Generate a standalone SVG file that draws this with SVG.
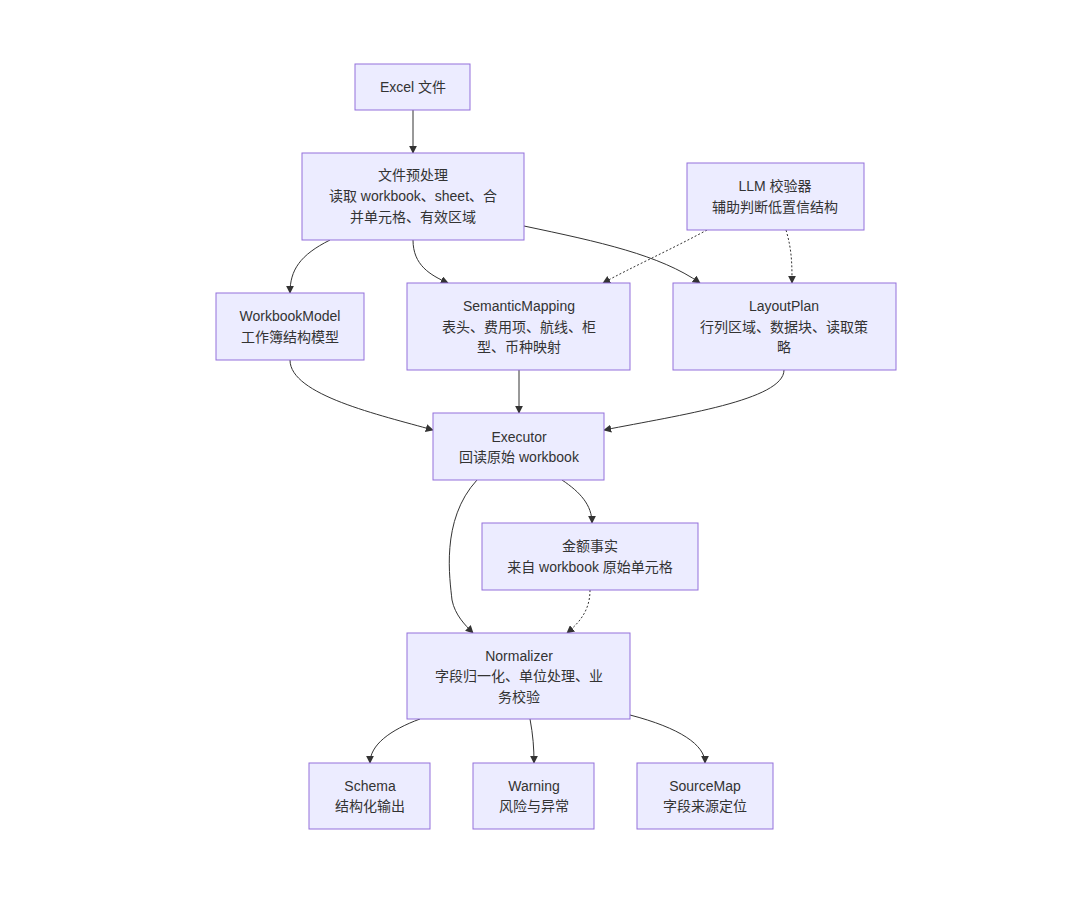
<svg xmlns="http://www.w3.org/2000/svg" width="1080" height="920" viewBox="0 0 1080 920">
<style>
.n rect{fill:#ECECFF;stroke:#9370DB;stroke-width:1}
.n text{font-family:"Liberation Sans","Noto Sans CJK SC",sans-serif;font-size:14px;fill:#333;text-anchor:middle;dominant-baseline:central}
.e path{fill:none;stroke:#333;stroke-width:1;marker-end:url(#a)}
.e .d{stroke-dasharray:2 2}
</style>
<defs><marker id="a" viewBox="0 0 10 10" refX="9" refY="5" markerWidth="8" markerHeight="8" orient="auto"><path d="M0,0L10,5L0,10z" fill="#333"/></marker></defs>
<rect width="1080" height="920" fill="#fff"/>
<g class="e">
<path d="M413,110V153"/>
<path d="M330,240C300,255 290,270 290,293"/>
<path d="M413,240C413,265 430,275 448,283"/>
<path d="M524,226C600,242 660,255 700,283"/>
<path class="d" d="M707,230C670,250 630,268 603,283"/>
<path class="d" d="M786,230C792,250 792,265 792,283"/>
<path d="M290,360C290,395 380,415 433,430"/>
<path d="M519,370V413"/>
<path d="M784,370C784,400 680,415 604,430"/>
<path d="M477,480C440,520 450,580 452,600C455,615 465,625 473,633"/>
<path d="M562,480C580,492 592,505 592,523"/>
<path class="d" d="M590,590C590,610 580,622 567,633"/>
<path d="M420,719C390,730 370,745 370,763"/>
<path d="M530,719C533,735 534,748 534,763"/>
<path d="M630,715C680,728 705,745 705,763"/>
</g>
<g class="n" id="excel"><rect x="355" y="64" width="115" height="46"/><text x="413" y="87">Excel 文件</text></g>
<g class="n" id="pre"><rect x="302" y="153" width="222" height="87"/><text x="413" y="175">文件预处理</text><text x="413" y="196">读取 workbook、sheet、合</text><text x="413" y="217">并单元格、有效区域</text></g>
<g class="n" id="llm"><rect x="687" y="163" width="177" height="67"/><text x="775" y="186">LLM 校验器</text><text x="775" y="207">辅助判断低置信结构</text></g>
<g class="n" id="wm"><rect x="216" y="293" width="148" height="67"/><text x="290" y="316">WorkbookModel</text><text x="290" y="337">工作簿结构模型</text></g>
<g class="n" id="sm"><rect x="407" y="283" width="223" height="87"/><text x="519" y="306">SemanticMapping</text><text x="519" y="327">表头、费用项、航线、柜</text><text x="519" y="347">型、币种映射</text></g>
<g class="n" id="lp"><rect x="673" y="283" width="223" height="87"/><text x="784" y="306">LayoutPlan</text><text x="784" y="327">行列区域、数据块、读取策</text><text x="784" y="347">略</text></g>
<g class="n" id="ex"><rect x="433" y="413" width="171" height="67"/><text x="519" y="437">Executor</text><text x="519" y="457">回读原始 workbook</text></g>
<g class="n" id="amt"><rect x="482" y="523" width="216" height="67"/><text x="590" y="546">金额事实</text><text x="590" y="567">来自 workbook 原始单元格</text></g>
<g class="n" id="norm"><rect x="407" y="633" width="223" height="86"/><text x="519" y="656">Normalizer</text><text x="519" y="676">字段归一化、单位处理、业</text><text x="519" y="697">务校验</text></g>
<g class="n" id="schema"><rect x="309" y="763" width="121" height="66"/><text x="370" y="786">Schema</text><text x="370" y="806">结构化输出</text></g>
<g class="n" id="warn"><rect x="473" y="763" width="121" height="66"/><text x="534" y="786">Warning</text><text x="534" y="806">风险与异常</text></g>
<g class="n" id="srcmap"><rect x="637" y="763" width="136" height="66"/><text x="705" y="786">SourceMap</text><text x="705" y="806">字段来源定位</text></g>
</svg>
